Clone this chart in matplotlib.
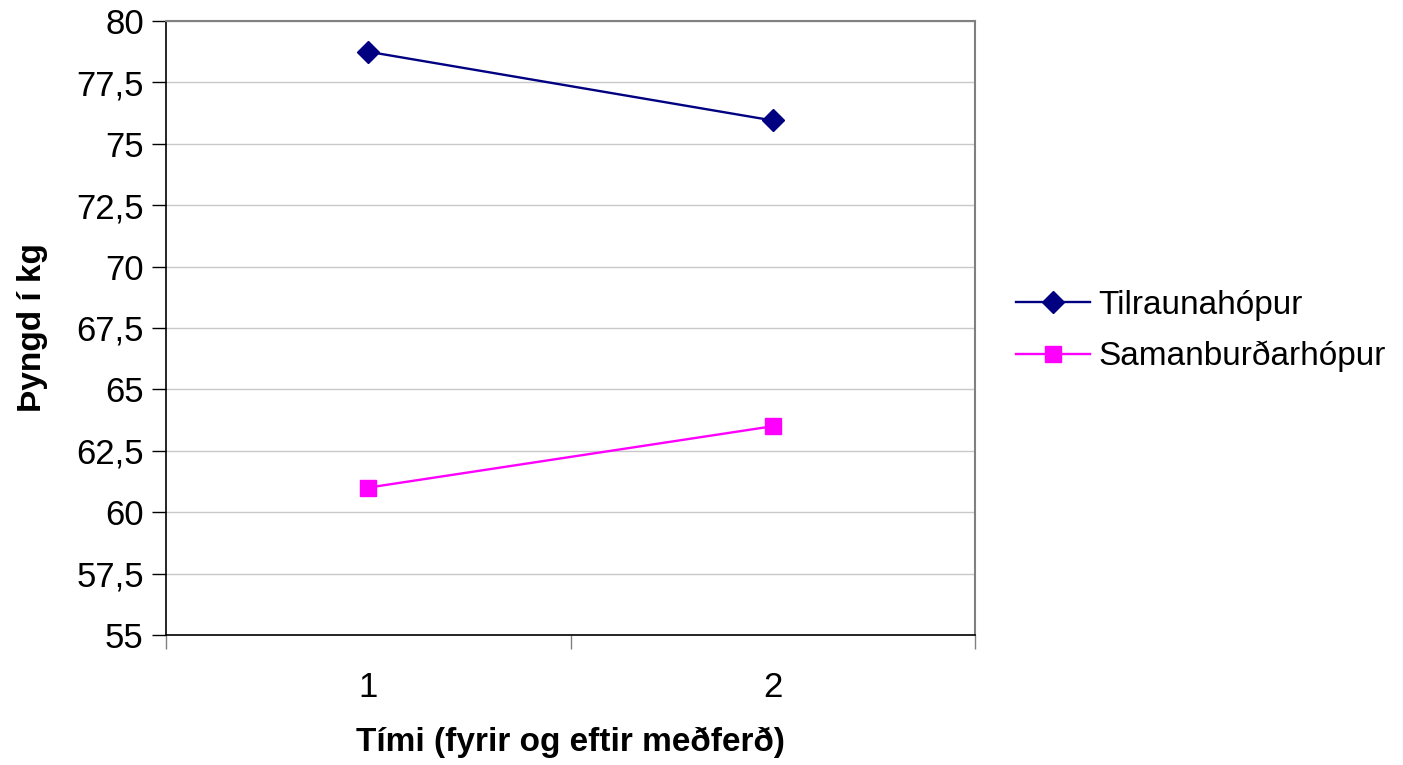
# Line chart: weight before and after treatment, two groups
import numpy as np
import matplotlib.pyplot as plt
from matplotlib.ticker import FuncFormatter, FixedLocator

plt.rcParams['font.family'] = ['Liberation Sans', 'DejaVu Sans']

times = ["1", "2"]
tilrauna = [78.75, 75.95]
samanburdar = [61.0, 63.5]
series_names = ["Tilraunahópur", "Samanburðarhópur"]

x = np.arange(1, len(times) + 1)

fig = plt.figure(figsize=(14.03, 7.65), dpi=100)
ax = fig.add_axes([0.1183, 0.170, 0.5767, 0.8025])

ax.plot(x, tilrauna, color="#000080", marker="D", markersize=11, linewidth=1.7,
        label=series_names[0])
ax.plot(x, samanburdar, color="#ff00ff", marker="s", markersize=12, linewidth=1.7,
        label=series_names[1])

ax.set_xlim(0.5, 2.5)
ax.set_ylim(55, 80)
ax.set_yticks(np.arange(55, 80.1, 2.5))
ax.yaxis.set_major_formatter(FuncFormatter(
    lambda v, p: ("%g" % v).replace(".", ",")))
ax.grid(axis="y", color="#c8c8c8", linewidth=1)
ax.set_axisbelow(True)

# category labels without ticks, ticks between categories
ax.set_xticks(x)
ax.set_xticklabels(times)
ax.tick_params(axis="x", which="major", length=0, pad=26, labelsize=25)
ax.xaxis.set_minor_locator(FixedLocator([0.5, 1.5, 2.5]))
ax.tick_params(axis="x", which="minor", length=10, width=1, color="#808080")
ax.tick_params(axis="y", length=10, width=1, labelsize=25, pad=6)

for side in ["top", "right"]:
    ax.spines[side].set_color("#808080")
    ax.spines[side].set_linewidth(1.5)
for side in ["left", "bottom"]:
    ax.spines[side].set_color("black")
    ax.spines[side].set_linewidth(1.2)

ax.set_xlabel("Tími (fyrir og eftir meðferð)", fontsize=24, fontweight="bold",
              labelpad=16)
ax.set_ylabel("Þyngd í kg", fontsize=24, fontweight="bold", labelpad=20)

fig.legend(loc="center left", bbox_to_anchor=(0.703, 0.567), frameon=False,
           fontsize=24, handlelength=2.2, handletextpad=0.25, labelspacing=0.6)

plt.savefig("out.png", dpi=100)
